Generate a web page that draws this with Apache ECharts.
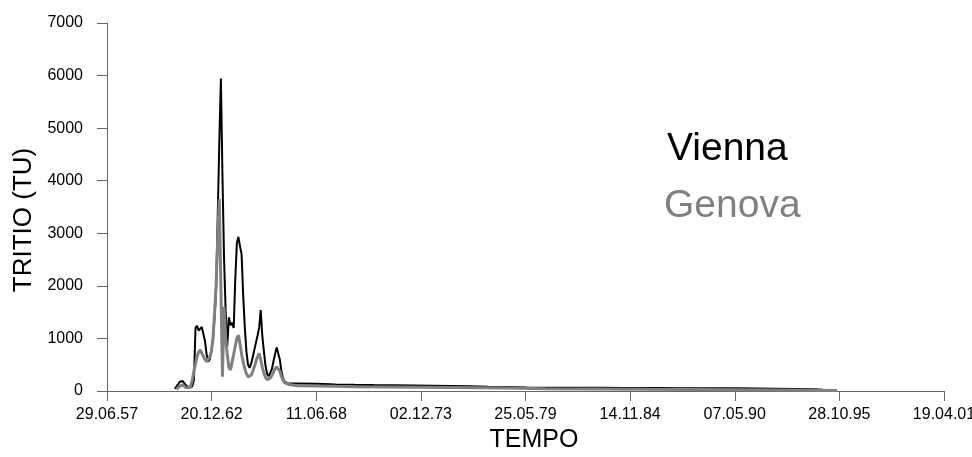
<!DOCTYPE html>
<html>
<head>
<meta charset="utf-8">
<script src="https://cdn.jsdelivr.net/npm/echarts@6/dist/echarts.min.js"></script>
<style>
  html, body { margin: 0; padding: 0; background: #fff; }
  #chart { width: 972px; height: 457px; }
</style>
</head>
<body>
<div id="chart"></div>
<script>
// tick labels of the time axis (one every 2000 days from 29.06.57)
var xTickLabels = ["29.06.57", "20.12.62", "11.06.68", "02.12.73", "25.05.79", "14.11.84", "07.05.90", "28.10.95", "19.04.01"];
var yTicks = [0, 1000, 2000, 3000, 4000, 5000, 6000, 7000];

// Vienna (monthly 1961-1966, then sparse)
var viennaDates = [
  "1961-01", "1961-02", "1961-03", "1961-04", "1961-05", "1961-06", "1961-07", "1961-08", "1961-09", "1961-10", "1961-11", "1961-12",
  "1962-01", "1962-02", "1962-03", "1962-04", "1962-05", "1962-06", "1962-07", "1962-08", "1962-09", "1962-10", "1962-11", "1962-12",
  "1963-01", "1963-02", "1963-03", "1963-04", "1963-05", "1963-06", "1963-07", "1963-08", "1963-09", "1963-10", "1963-11", "1963-12",
  "1964-01", "1964-02", "1964-03", "1964-04", "1964-05", "1964-06", "1964-07", "1964-08", "1964-09", "1964-10", "1964-11", "1964-12",
  "1965-01", "1965-02", "1965-03", "1965-04", "1965-05", "1965-06", "1965-07", "1965-08", "1965-09", "1965-10", "1965-11", "1965-12",
  "1966-01", "1966-02", "1966-03", "1966-04", "1966-05", "1966-06", "1966-07", "1966-08", "1966-09", "1966-10", "1966-11", "1966-12",
  "1967-06", "1968-06", "1969-06", "1970-06", "1971-06", "1972-06", "1973-06", "1974-06", "1975-06", "1976-06", "1977-06", "1978-06",
  "1979-06", "1980-06", "1981-06", "1982-06", "1983-06", "1984-06", "1985-06", "1986-06", "1987-06", "1988-06", "1989-06", "1990-06",
  "1991-06", "1992-06", "1993-06", "1994-06", "1994-12"
];
var viennaValues = [
  40, 70, 120, 170, 185, 190, 150, 110, 75, 60, 70, 90,
  200, 1200, 1240, 1150, 1140, 1220, 1250, 950, 700, 560, 600, 760,
  1000, 1400, 1900, 3300, 4700, 5945, 4100, 2500, 1500, 850, 1400, 1250,
  1300, 1200, 2100, 2800, 2933, 2750, 2600, 1800, 1200, 750, 500, 440,
  530, 650, 780, 920, 1050, 1200, 1540, 1050, 750, 480, 330, 280,
  300, 420, 560, 700, 830, 820, 600, 380, 240, 180, 155, 146,
  145, 140, 125, 118, 112, 108, 103, 99, 95, 88, 80, 74,
  68, 64, 62, 61, 60, 58, 57, 55, 54, 53, 52, 50,
  46, 42, 38, 32, 25
];

// Genova
var genovaDates = [
  "1961-02", "1961-03", "1961-04", "1961-05", "1961-06", "1961-07", "1961-08", "1961-09", "1961-10", "1961-11", "1961-12",
  "1962-01", "1962-02", "1962-03", "1962-04", "1962-05", "1962-06", "1962-07", "1962-08", "1962-09", "1962-10", "1962-11", "1962-12",
  "1963-01", "1963-02", "1963-03", "1963-04", "1963-05", "1963-06", "1963-07", "1963-08", "1963-09", "1963-10", "1963-11", "1963-12",
  "1964-01", "1964-02", "1964-03", "1964-04", "1964-05", "1964-06", "1964-07", "1964-08", "1964-09", "1964-10", "1964-11", "1964-12",
  "1965-01", "1965-02", "1965-03", "1965-04", "1965-05", "1965-06", "1965-07", "1965-08", "1965-09", "1965-10", "1965-11", "1965-12",
  "1966-01", "1966-02", "1966-03", "1966-04", "1966-05", "1966-06", "1966-07", "1966-08", "1966-09", "1966-10", "1966-11", "1966-12",
  "1967-06", "1968-06", "1969-06", "1970-06", "1972-06", "1975-06", "1978-06", "1980-06", "1985-06", "1990-06", "1994-06", "1995-09"
];
var genovaValues = [
  30, 60, 90, 110, 114, 90, 65, 57, 60, 100, 200,
  380, 520, 650, 740, 780, 720, 660, 600, 560, 580, 650, 750,
  1000, 1500, 2000, 2900, 3650, 2000, 272, 1600, 1000, 700, 450, 400,
  550, 700, 850, 1000, 1065, 900, 700, 550, 420, 330, 270, 247,
  300, 380, 460, 560, 650, 717, 600, 450, 340, 260, 215, 209,
  250, 300, 350, 420, 460, 475, 380, 280, 200, 160, 140, 130,
  100, 95, 88, 82, 75, 65, 55, 45, 35, 25, 15, 10
];

var DAY = 86400000;
var T0 = Date.UTC(1957, 5, 29); // 29.06.57 = day 0 of the axis

function toDays(s) {
  var p = s.split("-");
  return (Date.UTC(+p[0], +p[1] - 1, 15) - T0) / DAY;
}
function pairs(dates, values) {
  return dates.map(function (d, i) { return [toDays(d), values[i]]; });
}

var chart = echarts.init(document.getElementById("chart"));
var font = '"Liberation Sans", Arial, sans-serif';

chart.setOption({
  backgroundColor: "#fff",
  animation: false,
  grid: { left: 107, right: 28, top: 23, bottom: 66, containLabel: false, outerBoundsMode: "none" },
  xAxis: {
    type: "value",
    min: 0,
    max: 16000,
    interval: 2000,
    name: "TEMPO",
    nameLocation: "middle",
    nameGap: 33,
    nameTextStyle: { fontFamily: font, fontSize: 25, color: "#000", padding: [0, 0, 0, 17] },
    axisLine: { lineStyle: { color: "#666", width: 1 } },
    axisTick: { length: 10, lineStyle: { color: "#666" } },
    splitLine: { show: false },
    axisLabel: {
      fontFamily: font,
      fontSize: 16,
      color: "#000",
      margin: 16,
      hideOverlap: false,
      formatter: function (v) { return xTickLabels[Math.round(v / 2000)] || ""; }
    }
  },
  yAxis: {
    type: "value",
    min: yTicks[0],
    max: yTicks[yTicks.length - 1],
    interval: 1000,
    name: "TRITIO (TU)",
    nameLocation: "middle",
    nameGap: 70,
    nameTextStyle: { fontFamily: font, fontSize: 26, color: "#000", padding: [0, 26, 0, 0] },
    axisLine: { show: true, lineStyle: { color: "#666", width: 1 } },
    axisTick: { show: true, length: 10, lineStyle: { color: "#666" } },
    splitLine: { show: false },
    axisLabel: {
      fontFamily: font,
      fontSize: 16,
      color: "#000",
      margin: 24,
      formatter: function (v) { return String(v); }
    }
  },
  graphic: [
    { type: "text", left: 667, top: 130, style: { text: "Vienna", font: "39px " + font, fill: "#000" } },
    { type: "text", left: 664, top: 187, style: { text: "Genova", font: "39px " + font, fill: "#808080" } }
  ],
  series: [
    {
      name: "Vienna",
      type: "line",
      data: pairs(viennaDates, viennaValues),
      showSymbol: false,
      lineStyle: { color: "#000", width: 2 },
      itemStyle: { color: "#000" }
    },
    {
      name: "Genova",
      type: "line",
      data: pairs(genovaDates, genovaValues),
      showSymbol: false,
      lineStyle: { color: "#808080", width: 3 },
      itemStyle: { color: "#808080" }
    }
  ]
});
</script>
</body>
</html>
